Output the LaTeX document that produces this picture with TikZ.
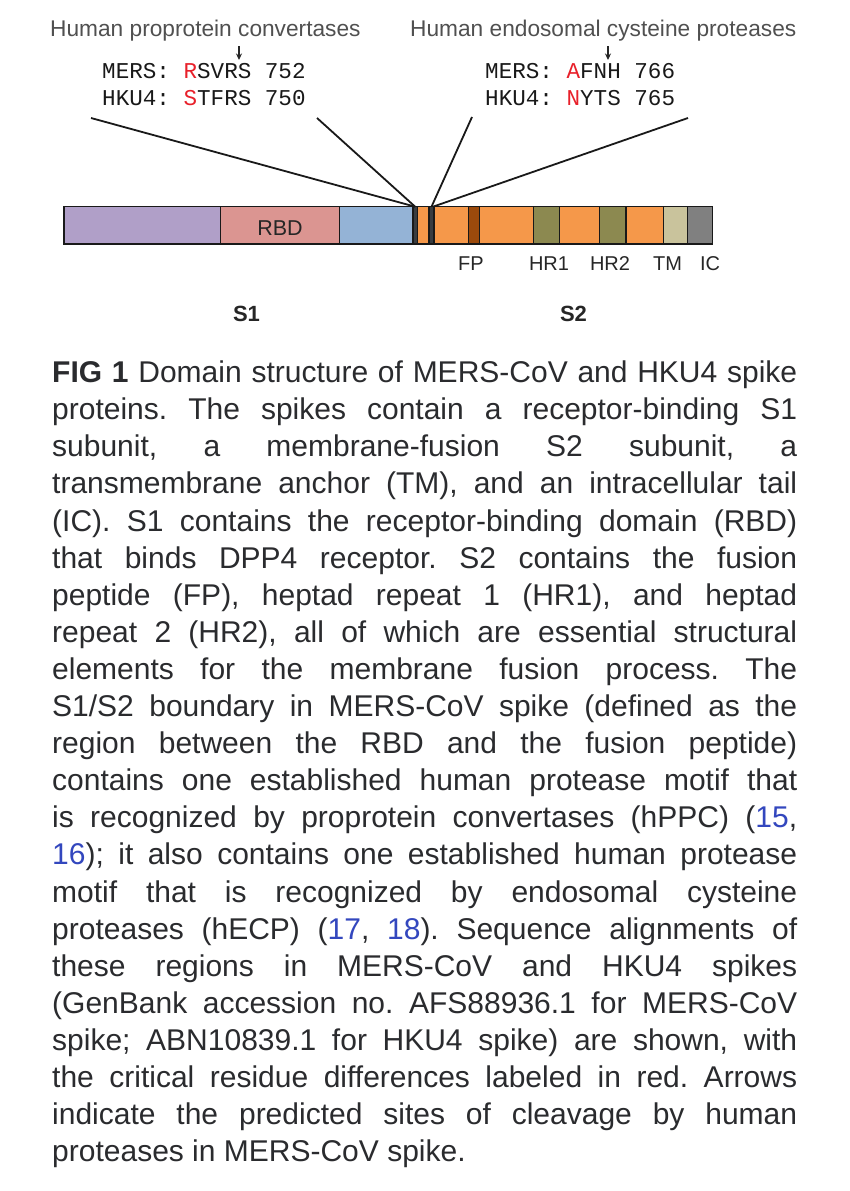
\documentclass[tikz,border=0pt]{standalone}
\usepackage{fontspec}
\setmainfont{Liberation Sans}
\newfontfamily\monofam{Liberation Mono}
\usetikzlibrary{arrows.meta}
\definecolor{cPurple}{HTML}{B09FC8}
\definecolor{cRBD}{HTML}{DB9591}
\definecolor{cBlue}{HTML}{94B3D6}
\definecolor{cDark}{HTML}{383C40}
\definecolor{cOrange}{HTML}{F5984A}
\definecolor{cFP}{HTML}{9C4A0C}
\definecolor{cHR}{HTML}{8C8950}
\definecolor{cTM}{HTML}{C9C39C}
\definecolor{cIC}{HTML}{808080}
\definecolor{cRed}{HTML}{E8202A}
\definecolor{cText}{HTML}{2A2B2E}
\definecolor{cGray}{HTML}{505050}
\definecolor{cLink}{HTML}{3347BE}
\frenchspacing
\tikzset{
  seg/.style={draw=black!90, line width=1.5pt, inner sep=0pt, outer sep=0pt, minimum height=37.3pt},
  seqtxt/.style={font=\monofam\fontsize{22.6}{26}\selectfont, text=black!90, anchor=base west, inner sep=0pt},
  headtxt/.style={font=\fontsize{22.7}{26}\selectfont, text=cGray, anchor=base west, inner sep=0pt},
  domlab/.style={font=\fontsize{20}{22}\selectfont, text=black!85, anchor=base, inner sep=0pt},
  sublab/.style={font=\bfseries\fontsize{22}{25}\selectfont, text=black!85, anchor=base, inner sep=0pt},
  captxt/.style={font=\fontsize{30}{37}\selectfont, text=cText, anchor=base west, inner sep=0pt},
  conn/.style={draw=black!90, line width=1.8pt},
  cleave/.style={draw=black!85, line width=1.4pt, -{Stealth[length=6.5pt,width=6pt]}}
}
\newcommand{\jline}[1]{\hbox to 745pt{\spaceskip=.278em plus 1fil\xspaceskip=.278em plus 1fil\relax #1}}
\newcommand{\lnk}[1]{\textcolor{cLink}{#1}}
\begin{document}
\begin{tikzpicture}[x=1pt,y=-1pt]
\useasboundingbox (0,0) rectangle (850,1191);
\fill[white] (0,0) rectangle (850,1191);

% headers
\node[headtxt] (hppc) at (50,36.5) {Human proprotein convertases};
\node[headtxt] (hecp) at (410,36.5) {Human endosomal cysteine proteases};

% sequences
\node[seqtxt] (seqL1) at (102,78.3) {MERS: \textcolor{cRed}{R}SVRS 752};
\node[seqtxt] (seqL2) at (102,105) {HKU4: \textcolor{cRed}{S}TFRS 750};
\node[seqtxt] (seqR1) at (485,78.3) {MERS: \textcolor{cRed}{A}FNH 766};
\node[seqtxt] (seqR2) at (485,105) {HKU4: \textcolor{cRed}{N}YTS 765};

% cleavage arrows
\coordinate (arL0) at (239,46);
\coordinate (arL1) at (239,60);
\coordinate (arR0) at (608,46);
\coordinate (arR1) at (608,60);
\draw[cleave] (arL0) -- (arL1);
\draw[cleave] (arR0) -- (arR1);

% domain bar
\foreach \a/\b/\c/\n in {64/220.5/cPurple/dA, 220.5/339.5/cRBD/dRBD, 339.5/412.8/cBlue/dB,
  412.8/417.5/cDark/dK1, 417.5/429/cOrange/dO1, 429/434/cDark/dK2, 434/468.3/cOrange/dO2,
  468.3/479.3/cFP/dFP, 479.3/533.3/cOrange/dO3, 533.3/559.3/cHR/dHR1, 559.3/599.3/cOrange/dO4,
  599.3/626/cHR/dHR2, 626/663.3/cOrange/dO5, 663.3/687.3/cTM/dTM, 687.3/712.7/cIC/dIC}
{
  \node[seg, fill=\c, minimum width={(\b-\a)*1pt}] (\n) at ({(\a+\b)/2},225.35) {};
}
\node[font=\fontsize{21.5}{24}\selectfont, text=black!85, anchor=base, inner sep=0pt] (rbdlab) at (280,235) {RBD};

% connectors from sequence blocks to the bar
\coordinate (c1) at (91,118);
\coordinate (c2) at (317,118);
\coordinate (c3) at (472,117);
\coordinate (c4) at (688,118);
\draw[conn] (c1) -- (dK1.north);
\draw[conn] (c2) -- (dK1.north);
\draw[conn] (c3) -- (dK2.north);
\draw[conn] (c4) -- ([xshift=1.5pt]dK2.north);

% domain labels
\node[domlab] (lFP) at (471,270.5) {FP};
\node[domlab] (lHR1) at (549,270.5) {HR1};
\node[domlab] (lHR2) at (610,270.5) {HR2};
\node[domlab] (lTM) at (667.5,270.5) {TM};
\node[domlab] (lIC) at (710,270.5) {IC};
\node[sublab] (lS1) at (246.5,321) {S1};
\node[sublab] (lS2) at (573.5,321) {S2};

% caption
\foreach \t [count=\i] in {
  {\textbf{FIG 1} Domain structure of MERS-CoV and HKU4 spike},
  {proteins. The spikes contain a receptor-binding S1},
  {subunit, a membrane-fusion S2 subunit, a},
  {transmembrane anchor (TM), and an intracellular tail},
  {(IC). S1 contains the receptor-binding domain (RBD)},
  {that binds DPP4 receptor. S2 contains the fusion},
  {peptide (FP), heptad repeat 1 (HR1), and heptad},
  {repeat 2 (HR2), all of which are essential structural},
  {elements for the membrane fusion process. The},
  {S1/S2 boundary in MERS-CoV spike (defined as the},
  {region between the RBD and the fusion peptide)},
  {contains one established human protease motif that},
  {is recognized by proprotein convertases (hPPC) (\lnk{15},},
  {\lnk{16}); it also contains one established human protease},
  {motif that is recognized by endosomal cysteine},
  {proteases (hECP) (\lnk{17}, \lnk{18}). Sequence alignments of},
  {these regions in MERS-CoV and HKU4 spikes},
  {(GenBank accession no. AFS88936.1 for MERS-CoV},
  {spike; ABN10839.1 for HKU4 spike) are shown, with},
  {the critical residue differences labeled in red. Arrows},
  {indicate the predicted sites of cleavage by human}}
{
  \node[captxt] (cap\i) at (52,{382.6+(\i-1)*37.1}) {\jline{\t}};
}
\node[captxt] (cap22) at (52,{382.6+21*37.1}) {proteases in MERS-CoV spike.};
\end{tikzpicture}
\end{document}
